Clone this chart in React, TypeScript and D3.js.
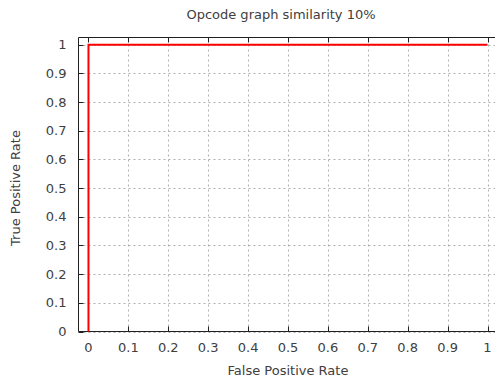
import React from "react";
import * as d3 from "d3";

// ROC curve points (false positive rate, true positive rate)
const fpr = [0, 0, 1];
const tpr = [0, 1, 1];
const xTicks = [0, 0.1, 0.2, 0.3, 0.4, 0.5, 0.6, 0.7, 0.8, 0.9, 1];
const yTicks = [0, 0.1, 0.2, 0.3, 0.4, 0.5, 0.6, 0.7, 0.8, 0.9, 1];

const width = 495;
const height = 382;
const margin = { top: 37.5, right: -2, bottom: 50.5, left: 78.5 };
const font = "DejaVu Sans, sans-serif";
const textColor = "#404040";

const App = () => {
  const x = d3
    .scaleLinear()
    .domain([-0.025, 1.0])
    .range([margin.left, 487.5]);
  const y = d3
    .scaleLinear()
    .domain([0, 1.025])
    .range([height - margin.bottom, margin.top]);

  const x0 = margin.left;
  const x1 = x(1.025);
  const y0 = height - margin.bottom;
  const y1 = margin.top;

  const points = fpr.map((d, i) => [d, tpr[i]] as [number, number]);
  const line = d3
    .line<[number, number]>()
    .x((d) => x(d[0]))
    .y((d) => y(d[1]));

  return (
    <svg
      width={width}
      height={height}
      style={{ position: "absolute", left: 0, top: 0 }}
    >
      <rect width={width} height={height} fill="#fff" />
      {/* grid */}
      {xTicks.map((t) => (
        <line
          key={"gx" + t}
          x1={Math.round(x(t)) + 0.5}
          x2={Math.round(x(t)) + 0.5}
          y1={y0}
          y2={y1}
          stroke="#b0b0b0"
          strokeDasharray="2,3"
        />
      ))}
      {yTicks.map((t) => (
        <line
          key={"gy" + t}
          x1={x0}
          x2={x1}
          y1={Math.round(y(t)) + 0.5}
          y2={Math.round(y(t)) + 0.5}
          stroke="#b0b0b0"
          strokeDasharray="2,3"
        />
      ))}
      {/* tick marks */}
      {xTicks.map((t) => (
        <g key={"tx" + t} stroke="#202020">
          <line x1={Math.round(x(t)) + 0.5} x2={Math.round(x(t)) + 0.5} y1={y0} y2={y0 - 5} />
          <line x1={Math.round(x(t)) + 0.5} x2={Math.round(x(t)) + 0.5} y1={y1} y2={y1 + 5} />
        </g>
      ))}
      {yTicks.map((t) => (
        <g key={"ty" + t} stroke="#202020">
          <line x1={x0} x2={x0 + 5} y1={Math.round(y(t)) + 0.5} y2={Math.round(y(t)) + 0.5} />
        </g>
      ))}
      {/* frame */}
      <path
        d={`M${x1},${y1}H${x0}V${y0}H${x1}`}
        fill="none"
        stroke="#202020"
        strokeWidth={1}
      />
      {/* curve */}
      <path d={line(points) ?? ""} fill="none" stroke="#ff0000" strokeWidth={2} />
      {/* tick labels */}
      {xTicks.map((t) => (
        <text
          key={"lx" + t}
          x={x(t)}
          y={352}
          textAnchor="middle"
          fontFamily={font}
          fontSize={13}
          fill={textColor}
        >
          {t}
        </text>
      ))}
      {yTicks.map((t) => (
        <text
          key={"ly" + t}
          x={66.5}
          y={y(t) + 4.5}
          textAnchor="end"
          fontFamily={font}
          fontSize={13}
          fill={textColor}
        >
          {t}
        </text>
      ))}
      {/* titles */}
      <text x={281} y={19} textAnchor="middle" fontFamily={font} fontSize={13} fill={textColor}>
        Opcode graph similarity 10%
      </text>
      <text x={288} y={375} textAnchor="middle" fontFamily={font} fontSize={13} fill={textColor}>
        False Positive Rate
      </text>
      <text
        transform="translate(20,188) rotate(-90)"
        textAnchor="middle"
        fontFamily={font}
        fontSize={13}
        fill={textColor}
      >
        True Positive Rate
      </text>
    </svg>
  );
};

export default App;
